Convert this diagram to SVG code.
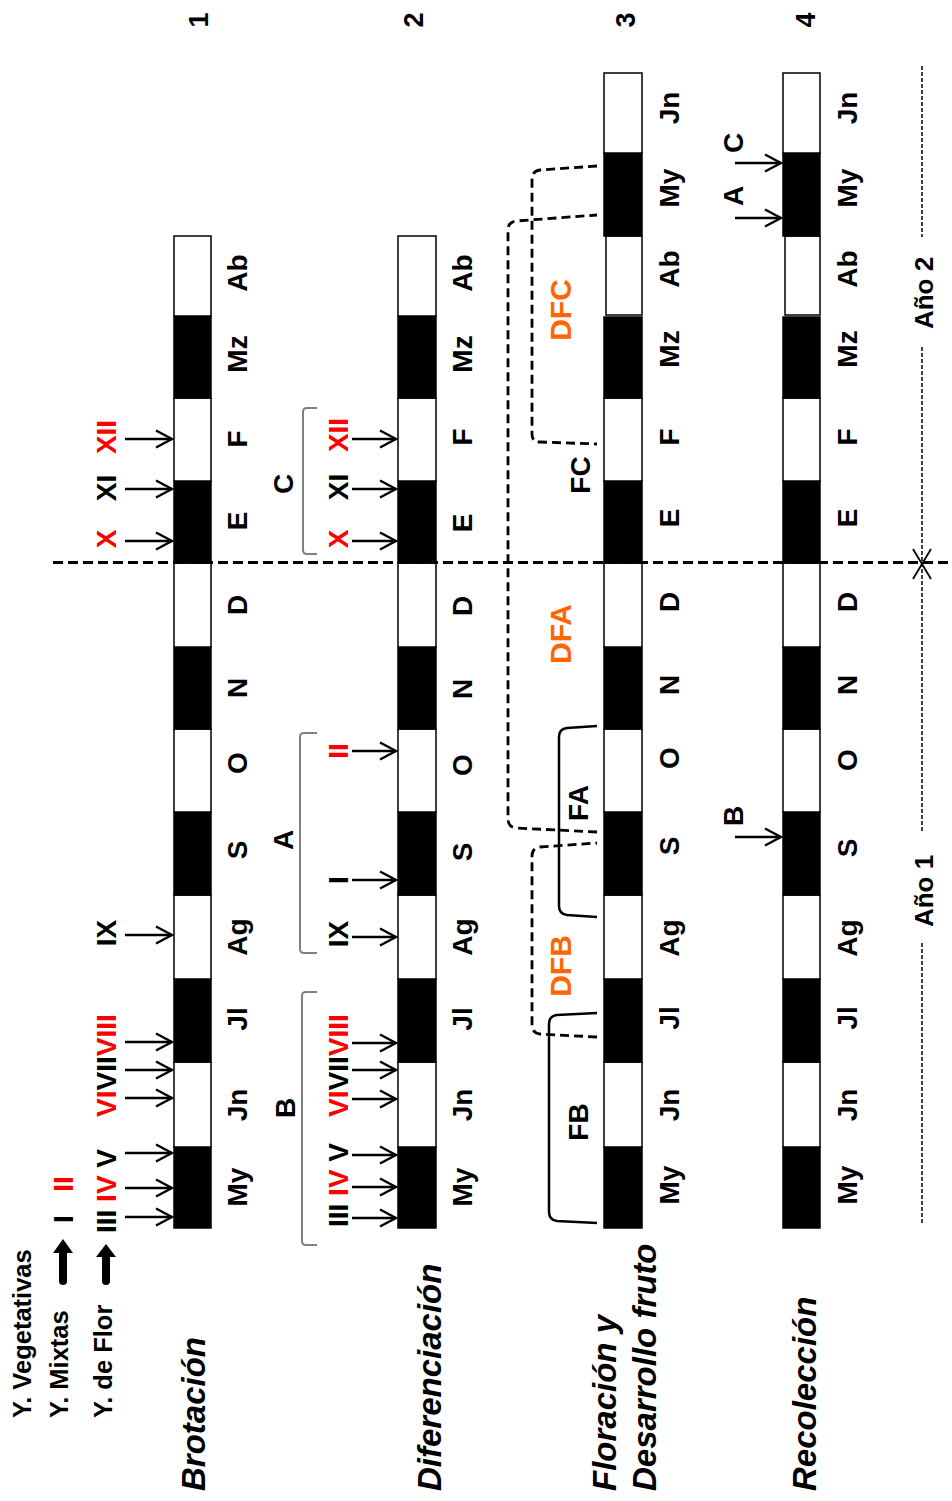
<svg xmlns="http://www.w3.org/2000/svg" width="952" height="1501" viewBox="0 0 952 1501">
<defs>
<style>
.m{font-family:"Liberation Sans",Arial,sans-serif;font-weight:bold;font-size:28px;fill:#000}
.n{font-family:"Liberation Sans",Arial,sans-serif;font-weight:bold;font-size:27px;fill:#000}
.lg{font-family:"Liberation Sans",Arial,sans-serif;font-weight:bold;font-size:25.5px;fill:#000}
.t{font-family:"Liberation Sans",Arial,sans-serif;font-weight:bold;font-style:italic;font-size:33px;fill:#000}
.y{font-family:"Liberation Sans",Arial,sans-serif;font-weight:bold;font-size:26px;fill:#000}
.r{fill:#ff0000}
.o{font-family:"Liberation Sans",Arial,sans-serif;font-weight:bold;font-size:30px;fill:#ff6600}
.b{fill:#000;stroke:#000;stroke-width:1.5}
.w{fill:#fff;stroke:#000;stroke-width:1.5}
.arr{stroke:#000;stroke-width:2.5;fill:none;marker-end:url(#ah)}
.brk{stroke:#808080;stroke-width:2;fill:none}
.fbk{stroke:#000;stroke-width:2.5;fill:none}
.dsh{stroke:#000;stroke-width:2.8;fill:none;stroke-dasharray:9 5}
.big{stroke:#000;stroke-width:8;stroke-linecap:round;fill:none}
</style>
<marker id="ah" viewBox="-18 -10 20 20" refX="0" refY="0" markerWidth="20" markerHeight="20" markerUnits="userSpaceOnUse" orient="auto">
<path d="M-16,-8.5 L0,0 L-16,8.5" fill="none" stroke="#000" stroke-width="2.5"/>
</marker>
</defs>
<rect width="952" height="1501" fill="#fff"/>

<!-- Column numbers -->
<g id="numbers">
<text class="n" text-anchor="middle" transform="translate(208,20) rotate(-90)">1</text>
<text class="n" text-anchor="middle" transform="translate(423,20) rotate(-90)">2</text>
<text class="n" text-anchor="middle" transform="translate(635,20) rotate(-90)">3</text>
<text class="n" text-anchor="middle" transform="translate(815,20) rotate(-90)">4</text>
</g>

<!-- Legend -->
<g id="legend">
<text class="lg" transform="translate(31,1418) rotate(-90)">Y. Vegetativas</text>
<text class="lg" transform="translate(68,1418) rotate(-90)">Y. Mixtas</text>
<text class="lg" transform="translate(112,1418) rotate(-90)">Y. de Flor</text>
<path class="big" d="M63,1281 L63,1252"/>
<polygon points="53,1253 73,1253 63,1239" fill="#000"/>
<path class="big" d="M106,1281 L106,1256"/>
<polygon points="96,1257 116,1257 106,1244" fill="#000"/>
<text class="m" text-anchor="middle" transform="translate(73,1219) rotate(-90)">I</text>
<text class="m r" text-anchor="middle" transform="translate(73,1184) rotate(-90)">II</text>
</g>

<!-- Row titles -->
<g id="titles">
<text class="t" transform="translate(205,1491) rotate(-90)">Brotación</text>
<text class="t" transform="translate(441,1491) rotate(-90)">Diferenciación</text>
<text class="t" transform="translate(616,1491) rotate(-90)">Floración y</text>
<text class="t" transform="translate(656,1491) rotate(-90)">Desarrollo fruto</text>
<text class="t" transform="translate(816,1491) rotate(-90)">Recolección</text>
</g>

<!-- Bar 1 -->
<g id="bar1">
<rect class="b" x="174" y="1147" width="37" height="81"/>
<rect class="w" x="174" y="1062" width="37" height="85"/>
<rect class="b" x="174" y="979" width="37" height="83"/>
<rect class="w" x="174" y="895" width="37" height="84"/>
<rect class="b" x="174" y="812" width="37" height="83"/>
<rect class="w" x="174" y="729" width="37" height="83"/>
<rect class="b" x="174" y="647" width="37" height="82"/>
<rect class="w" x="174" y="563" width="37" height="84"/>
<rect class="b" x="174" y="481" width="37" height="82"/>
<rect class="w" x="174" y="398" width="37" height="83"/>
<rect class="b" x="174" y="316" width="37" height="82"/>
<rect class="w" x="174" y="236" width="37" height="80"/>
<g class="m" text-anchor="middle">
<text transform="translate(247,1187) rotate(-90)">My</text>
<text transform="translate(247,1105) rotate(-90)">Jn</text>
<text transform="translate(247,1019) rotate(-90)">Jl</text>
<text transform="translate(247,937) rotate(-90)">Ag</text>
<text transform="translate(247,850) rotate(-90)">S</text>
<text transform="translate(247,763) rotate(-90)">O</text>
<text transform="translate(247,688) rotate(-90)">N</text>
<text transform="translate(247,605) rotate(-90)">D</text>
<text transform="translate(247,521) rotate(-90)">E</text>
<text transform="translate(247,439) rotate(-90)">F</text>
<text transform="translate(247,354) rotate(-90)">Mz</text>
<text transform="translate(247,273) rotate(-90)">Ab</text>
</g>
<text class="m" transform="translate(116,1233) rotate(-90)">III <tspan class="r">IV</tspan> V</text>
<text class="m" transform="translate(116,1117) rotate(-90)"><tspan class="r">VI</tspan>VII<tspan class="r">VIII</tspan></text>
<text class="m" text-anchor="middle" transform="translate(116,933) rotate(-90)">IX</text>
<text class="m r" text-anchor="middle" transform="translate(116,539) rotate(-90)">X</text>
<text class="m" text-anchor="middle" transform="translate(116,488) rotate(-90)">XI</text>
<text class="m r" text-anchor="middle" transform="translate(116,437) rotate(-90)">XII</text>
</g>

<!-- Bar 2 -->
<g id="bar2">
<rect class="b" x="398" y="1147" width="38" height="81"/>
<rect class="w" x="398" y="1062" width="38" height="85"/>
<rect class="b" x="398" y="979" width="38" height="83"/>
<rect class="w" x="398" y="895" width="38" height="84"/>
<rect class="b" x="398" y="812" width="38" height="83"/>
<rect class="w" x="398" y="729" width="38" height="83"/>
<rect class="b" x="398" y="647" width="38" height="82"/>
<rect class="w" x="398" y="563" width="38" height="84"/>
<rect class="b" x="398" y="481" width="38" height="82"/>
<rect class="w" x="398" y="398" width="38" height="83"/>
<rect class="b" x="398" y="316" width="38" height="82"/>
<rect class="w" x="398" y="236" width="38" height="80"/>
<g class="m" text-anchor="middle">
<text transform="translate(472,1187) rotate(-90)">My</text>
<text transform="translate(472,1105) rotate(-90)">Jn</text>
<text transform="translate(472,1019) rotate(-90)">Jl</text>
<text transform="translate(472,937) rotate(-90)">Ag</text>
<text transform="translate(472,852) rotate(-90)">S</text>
<text transform="translate(472,765) rotate(-90)">O</text>
<text transform="translate(472,689) rotate(-90)">N</text>
<text transform="translate(472,606) rotate(-90)">D</text>
<text transform="translate(472,523) rotate(-90)">E</text>
<text transform="translate(472,437) rotate(-90)">F</text>
<text transform="translate(472,354) rotate(-90)">Mz</text>
<text transform="translate(472,273) rotate(-90)">Ab</text>
</g>
<text class="m" transform="translate(348,1227) rotate(-90)">III <tspan class="r">IV</tspan> V</text>
<text class="m" transform="translate(348,1117) rotate(-90)"><tspan class="r">VI</tspan>VII<tspan class="r">VIII</tspan></text>
<text class="m" text-anchor="middle" transform="translate(348,934) rotate(-90)">IX</text>
<text class="m" text-anchor="middle" transform="translate(348,880) rotate(-90)">I</text>
<text class="m r" text-anchor="middle" transform="translate(348,751) rotate(-90)">II</text>
<text class="m r" text-anchor="middle" transform="translate(348,539) rotate(-90)">X</text>
<text class="m" text-anchor="middle" transform="translate(348,487) rotate(-90)">XI</text>
<text class="m r" text-anchor="middle" transform="translate(348,435) rotate(-90)">XII</text>
<path class="brk" d="M317,408 L307,408 Q303,408 303,412 L303,550 Q303,554 307,554 L317,554"/>
<path class="brk" d="M317,733 L304,733 Q300,733 300,737 L300,949 Q300,953 304,953 L317,953"/>
<path class="brk" d="M317,992 L306,992 Q302,992 302,996 L302,1241 Q302,1245 306,1245 L317,1245"/>
<text class="m" text-anchor="middle" transform="translate(293,484) rotate(-90)">C</text>
<text class="m" text-anchor="middle" transform="translate(293,840) rotate(-90)">A</text>
<text class="m" text-anchor="middle" transform="translate(295,1108) rotate(-90)">B</text>
</g>

<!-- Bar 3 -->
<g id="bar3">
<rect class="b" x="604" y="1147" width="38" height="81"/>
<rect class="w" x="604" y="1062" width="38" height="85"/>
<rect class="b" x="604" y="979" width="38" height="83"/>
<rect class="w" x="604" y="895" width="38" height="84"/>
<rect class="b" x="604" y="812" width="38" height="83"/>
<rect class="w" x="604" y="729" width="38" height="83"/>
<rect class="b" x="604" y="647" width="38" height="82"/>
<rect class="w" x="604" y="563" width="38" height="84"/>
<rect class="b" x="604" y="481" width="38" height="82"/>
<rect class="w" x="604" y="398" width="38" height="83"/>
<rect class="b" x="604" y="317" width="38" height="81"/>
<rect class="w" x="606" y="236" width="36" height="79"/>
<rect class="b" x="604" y="153" width="38" height="83"/>
<rect class="w" x="604" y="73" width="38" height="80"/>
<g class="m" text-anchor="middle">
<text transform="translate(679,1185) rotate(-90)">My</text>
<text transform="translate(679,1105) rotate(-90)">Jn</text>
<text transform="translate(679,1018) rotate(-90)">Jl</text>
<text transform="translate(679,938) rotate(-90)">Ag</text>
<text transform="translate(679,846) rotate(-90)">S</text>
<text transform="translate(679,758) rotate(-90)">O</text>
<text transform="translate(679,685) rotate(-90)">N</text>
<text transform="translate(679,602) rotate(-90)">D</text>
<text transform="translate(679,518) rotate(-90)">E</text>
<text transform="translate(679,437) rotate(-90)">F</text>
<text transform="translate(679,349) rotate(-90)">Mz</text>
<text transform="translate(679,269) rotate(-90)">Ab</text>
<text transform="translate(679,188) rotate(-90)">My</text>
<text transform="translate(679,108) rotate(-90)">Jn</text>
</g>
<path class="fbk" d="M597,726 L567,728 Q559,729 559,737 L559,906 Q559,914 567,915 L597,917"/>
<path class="fbk" d="M597,1013 L557,1015 Q549,1016 549,1024 L549,1212 Q549,1220 557,1221 L597,1223"/>
<text class="m" text-anchor="middle" transform="translate(588,803) rotate(-90)">FA</text>
<text class="m" text-anchor="middle" transform="translate(588,1122) rotate(-90)">FB</text>
<text class="m" text-anchor="middle" transform="translate(590,475) rotate(-90)">FC</text>
<text class="o" text-anchor="middle" transform="translate(571,310) rotate(-90)">DFC</text>
<text class="o" text-anchor="middle" transform="translate(571,634) rotate(-90)">DFA</text>
<text class="o" text-anchor="middle" transform="translate(571,966) rotate(-90)">DFB</text>
</g>

<!-- Bar 4 -->
<g id="bar4">
<rect class="b" x="783" y="1147" width="37" height="81"/>
<rect class="w" x="783" y="1062" width="37" height="85"/>
<rect class="b" x="783" y="979" width="37" height="83"/>
<rect class="w" x="783" y="895" width="37" height="84"/>
<rect class="b" x="783" y="812" width="37" height="83"/>
<rect class="w" x="783" y="729" width="37" height="83"/>
<rect class="b" x="783" y="647" width="37" height="82"/>
<rect class="w" x="783" y="563" width="37" height="84"/>
<rect class="b" x="783" y="481" width="37" height="82"/>
<rect class="w" x="783" y="398" width="37" height="83"/>
<rect class="b" x="783" y="317" width="37" height="81"/>
<rect class="w" x="785" y="236" width="35" height="79"/>
<rect class="b" x="783" y="153" width="37" height="83"/>
<rect class="w" x="783" y="73" width="37" height="80"/>
<g class="m" text-anchor="middle">
<text transform="translate(857,1185) rotate(-90)">My</text>
<text transform="translate(857,1105) rotate(-90)">Jn</text>
<text transform="translate(857,1018) rotate(-90)">Jl</text>
<text transform="translate(857,938) rotate(-90)">Ag</text>
<text transform="translate(857,848) rotate(-90)">S</text>
<text transform="translate(857,760) rotate(-90)">O</text>
<text transform="translate(857,685) rotate(-90)">N</text>
<text transform="translate(857,602) rotate(-90)">D</text>
<text transform="translate(857,518) rotate(-90)">E</text>
<text transform="translate(857,437) rotate(-90)">F</text>
<text transform="translate(857,349) rotate(-90)">Mz</text>
<text transform="translate(857,269) rotate(-90)">Ab</text>
<text transform="translate(857,188) rotate(-90)">My</text>
<text transform="translate(857,108) rotate(-90)">Jn</text>
</g>
<text class="m" text-anchor="middle" transform="translate(743,196) rotate(-90)">A</text>
<text class="m" text-anchor="middle" transform="translate(743,143) rotate(-90)">C</text>
<text class="m" text-anchor="middle" transform="translate(743,816) rotate(-90)">B</text>
</g>

<!-- Year axis -->
<g id="years">
<path d="M922,66 L922,237 M922,347 L922,833 M922,943 L922,1225" stroke="#000" stroke-width="1.5" stroke-dasharray="4 2" fill="none"/>
<text class="y" text-anchor="middle" transform="translate(933,293) rotate(-90)">Año 2</text>
<text class="y" text-anchor="middle" transform="translate(933,891) rotate(-90)">Año 1</text>
<path d="M913,549 L931,579 M931,549 L913,579" stroke="#000" stroke-width="1.8" fill="none"/>
</g>

<!-- Connectors -->
<g id="connectors">
<path d="M53,562.5 L952,562.5" stroke="#000" stroke-width="3" stroke-dasharray="10 5" fill="none"/>
<path class="dsh" d="M597,1037 L540,1034 Q532,1033 532,1025 L532,856 Q532,848 540,847 L597,843"/>
<path class="dsh" d="M597,832 L516,828 Q508,827 508,819 L508,230 Q508,222 516,221 L597,215"/>
<path class="dsh" d="M597,166 L540,170 Q532,171 532,179 L532,434 Q532,442 540,442 L597,444"/>
<g class="arr">
<path d="M125,1217 L172,1217"/>
<path d="M125,1188 L172,1188"/>
<path d="M125,1153 L172,1153"/>
<path d="M125,1098 L172,1098"/>
<path d="M125,1070 L172,1070"/>
<path d="M125,1042 L172,1042"/>
<path d="M125,935 L172,935"/>
<path d="M125,541 L172,541"/>
<path d="M125,489 L172,489"/>
<path d="M125,439 L172,439"/>
<path d="M352,1218 L396,1218"/>
<path d="M352,1187 L396,1187"/>
<path d="M352,1155 L396,1155"/>
<path d="M352,1099 L396,1099"/>
<path d="M352,1070 L396,1070"/>
<path d="M352,1043 L396,1043"/>
<path d="M352,937 L396,937"/>
<path d="M352,880 L396,880"/>
<path d="M352,751 L396,751"/>
<path d="M352,541 L396,541"/>
<path d="M352,489 L396,489"/>
<path d="M352,439 L396,439"/>
<path d="M735,218 L781,218"/>
<path d="M735,163 L781,163"/>
<path d="M735,837 L781,837"/>
</g>
</g>
</svg>
